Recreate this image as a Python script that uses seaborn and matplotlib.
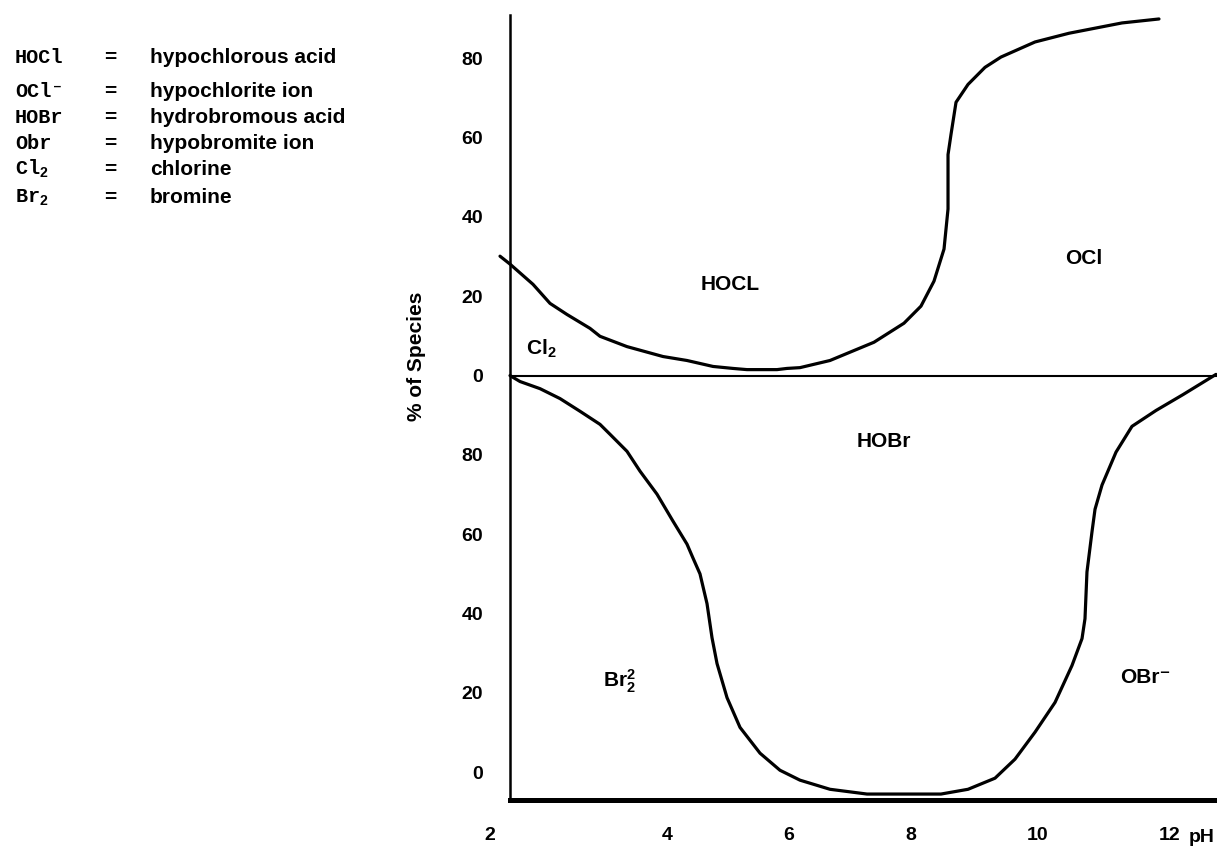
import numpy as np
import pandas as pd
import matplotlib
matplotlib.use("Agg")
import matplotlib.pyplot as plt
import seaborn as sns

# ---------------- data ----------------
# upper panel: HOCl / OCl- boundary, % of species vs pH
ph_upper = [2.113, 2.226, 2.486, 2.678, 2.870, 3.130, 3.243, 3.548, 3.955, 4.328,
            4.754, 5.082, 5.311, 5.803, 5.967, 6.180, 6.672, 7.393, 7.885, 8.157,
            8.362, 8.520, 8.583, 8.583, 8.630, 8.709, 8.898, 9.165, 9.417, 9.953,
            10.470, 11.273, 11.833]
pct_upper = [30.1, 28.1, 23.0, 18.2, 15.4, 11.9, 9.9, 7.3, 4.8, 3.8,
             2.3, 1.8, 1.5, 1.5, 1.8, 2.0, 3.8, 8.4, 13.2, 17.5,
             23.8, 31.9, 42.0, 55.7, 60.8, 68.9, 73.4, 77.7, 80.3, 84.1,
             86.3, 88.9, 89.9]

# lower panel: Br2 / HOBr / OBr- boundary
ph_lower = [2.226, 2.339, 2.565, 2.791, 3.017, 3.243, 3.356, 3.548, 3.695, 3.887,
            4.098, 4.328, 4.426, 4.541, 4.656, 4.738, 4.820, 4.984, 5.197, 5.525,
            5.852, 6.180, 6.672, 7.279, 8.472, 8.898, 9.323, 9.638, 9.953, 10.258,
            10.515, 10.667, 10.712, 10.742, 10.818, 10.864, 10.970, 11.182, 11.424, 11.788,
            12.197, 12.697]
pct_lower = [100.0, 98.5, 96.7, 94.2, 91.0, 87.7, 85.2, 80.9, 75.9, 70.1,
             63.3, 57.5, 54.0, 50.0, 42.5, 33.9, 27.4, 18.8, 11.3, 4.8,
             0.5, -2.0, -4.3, -5.5, -5.5, -4.3, -1.5, 3.3, 10.1, 17.6,
             26.9, 33.7, 38.7, 50.5, 60.6, 66.3, 72.4, 80.7, 87.2, 91.2,
             95.2, 100.3]

ytick_values = [0, 20, 40, 60, 80]
xtick_ph = [2, 4, 6, 8, 10, 12]
xtick_labels = ["2", "4", "6", "8", "10", "12"]

legend_symbols = ["HOCl", "OCl\u207b", "HOBr", "Obr", r"Cl$_{2}$", r"Br$_{2}$"]
legend_names = ["hypochlorous acid", "hypochlorite ion", "hydrobromous acid",
                "hypobromite ion", "chlorine", "bromine"]

upper_labels = ["HOCL", "OCl", r"Cl$_{2}$"]
upper_label_ph = [5.03, 10.697, 2.576]
upper_label_pct = [23.0, 29.6, 6.8]
lower_labels = ["HOBr", r"Br$_{2}^{2}$", "OBr\u207b"]
lower_label_ph = [7.557, 3.458, 11.621]
lower_label_pct = [83.4, 22.8, 23.9]

# ---------------- layout / style ----------------
UPPER_OFFSET = 100  # upper panel sits on top of the lower panel's 100 % line

sns.set_style("white")
plt.rcParams["font.family"] = ["Liberation Sans", "DejaVu Sans"]
plt.rcParams["font.weight"] = "bold"
plt.rcParams["text.color"] = "black"
plt.rcParams["axes.labelcolor"] = "black"
plt.rcParams["xtick.color"] = "black"
plt.rcParams["ytick.color"] = "black"
plt.rcParams["mathtext.fontset"] = "custom"
plt.rcParams["mathtext.rm"] = "Liberation Sans:bold"
plt.rcParams["mathtext.it"] = "Liberation Sans:bold"
plt.rcParams["mathtext.bf"] = "Liberation Sans:bold"
plt.rcParams["mathtext.default"] = "rm"

W, H = 1217, 850
fig = plt.figure(figsize=(W / 100, H / 100), dpi=100)
fig.patch.set_facecolor("white")
ax = fig.add_axes([510 / W, 50 / H, 707 / W, 785 / H])

# piecewise-linear pH axis (the original's tick labels are unevenly spaced)
ph_knots = np.array([0, 2, 4, 6, 8, 10, 12, 14], dtype=float)
px_knots = np.array([313, 490, 667, 789, 911, 1038, 1170, 1302], dtype=float)


def fwd(x):
    return np.interp(x, ph_knots, px_knots)


def inv(u):
    return np.interp(u, px_knots, ph_knots)


ax.set_xscale("function", functions=(fwd, inv))

df_up = pd.DataFrame({"pH": ph_upper, "pct": np.array(pct_upper) + UPPER_OFFSET})
df_lo = pd.DataFrame({"pH": ph_lower, "pct": pct_lower})

sns.lineplot(data=df_up, x="pH", y="pct", ax=ax, color="black", lw=2.3,
             estimator=None, sort=False, clip_on=False)
sns.lineplot(data=df_lo, x="pH", y="pct", ax=ax, color="black", lw=2.3,
             estimator=None, sort=False, clip_on=False)
for ln in ax.lines:
    ln.set_solid_joinstyle("round")
    ln.set_solid_capstyle("round")

ax.axhline(UPPER_OFFSET, color="black", lw=1.5)

ax.set_xlim(inv(510), inv(1217))
ax.set_ylim(-7, 190.9)

# y ticks: lower panel 0..80, upper panel 0..80
ypos = list(ytick_values) + [v + UPPER_OFFSET for v in ytick_values]
ylab = [str(v) for v in ytick_values] * 2
ax.set_yticks(ypos)
ax.set_yticklabels(ylab, fontsize=14, fontweight="bold", color="black")
ax.tick_params(axis="y", direction="out", length=18, width=1.5, pad=1.5,
               color="black", labelcolor="black")
tick_widths = [0.8, 1.5, 2.2, 0.9, 1.9, 1.5, 1.9, 0, 0, 0]
tick_colors = ["#555555", "black", "black", "#777777", "black", "black", "black",
               "black", "black", "black"]
for t, w, c in zip(ax.yaxis.get_major_ticks(), tick_widths, tick_colors):
    if w == 0:
        t.tick1line.set_visible(False)
    else:
        t.tick1line.set_markeredgewidth(w)
        t.tick1line.set_color(c)

ax.set_xticks([])
ax.set_xlabel("")
ax.set_ylabel("")
for s in ["top", "right"]:
    ax.spines[s].set_visible(False)
ax.spines["left"].set_linewidth(1.8)
ax.spines["bottom"].set_linewidth(3.6)
ax.spines["left"].set_color("black")
ax.spines["bottom"].set_color("black")

# x tick labels below the axis
xtr = ax.get_xaxis_transform()
for p, lab in zip(xtick_ph, xtick_labels):
    ax.text(p, -36 / 785, lab, transform=xtr, ha="center", va="center",
            fontsize=14, fontweight="bold", clip_on=False)
ax.text(inv(1202), -38 / 785, "pH", transform=xtr, ha="center", va="center",
        fontsize=14, fontweight="bold", clip_on=False)

fig.text(417 / W, 1 - 356 / H, "% of Species", rotation=90, ha="center",
         va="center", fontsize=15, fontweight="bold")

# region labels
for lab, p, v in zip(upper_labels, upper_label_ph, upper_label_pct):
    ax.text(p, v + UPPER_OFFSET, lab, ha="center", va="center", fontsize=15,
            fontweight="bold")
for lab, p, v in zip(lower_labels, lower_label_ph, lower_label_pct):
    ax.text(p, v, lab, ha="center", va="center", fontsize=15, fontweight="bold")

# legend block (top left)
row_base = [63, 97, 123, 149, 175, 203]
for sym, name, yb in zip(legend_symbols, legend_names, row_base):
    fy = 1 - yb / H
    fig.text(15 / W, fy, sym, ha="left", va="baseline", fontsize=14.5,
             fontweight="bold", family=["Liberation Mono", "DejaVu Sans Mono"])
    fig.text(110 / W, fy, "=", ha="center", va="baseline", fontsize=15,
             fontweight="bold")
    fig.text(150 / W, fy, name, ha="left", va="baseline", fontsize=15,
             fontweight="bold")

fig.savefig("out.png", dpi=100, facecolor="white")
